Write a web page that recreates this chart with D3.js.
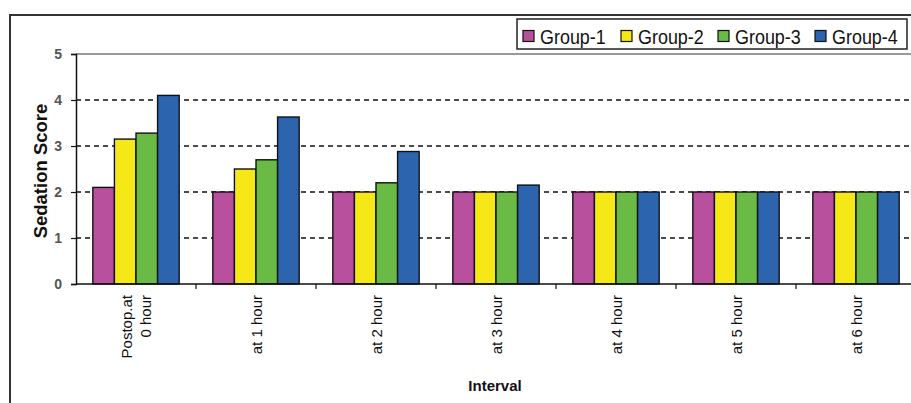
<!DOCTYPE html>
<html>
<head>
<meta charset="utf-8">
<script src="https://cdn.jsdelivr.net/npm/d3@7"></script>
<style>
  html, body { margin: 0; padding: 0; background: #fff; }
  svg { display: block; font-family: "Liberation Sans", Arial, sans-serif; }
</style>
</head>
<body>
<svg id="chart" width="911" height="403"></svg>
<script>
// Sedation score by interval for four groups
const categories = [["Postop.at", "0 hour"], ["at 1 hour"], ["at 2 hour"], ["at 3 hour"], ["at 4 hour"], ["at 5 hour"], ["at 6 hour"]];
const seriesNames = ["Group-1", "Group-2", "Group-3", "Group-4"];
const group1 = [2.1, 2.0, 2.0, 2.0, 2.0, 2.0, 2.0];
const group2 = [3.15, 2.5, 2.0, 2.0, 2.0, 2.0, 2.0];
const group3 = [3.28, 2.7, 2.2, 2.0, 2.0, 2.0, 2.0];
const group4 = [4.1, 3.63, 2.88, 2.15, 2.0, 2.0, 2.0];
const yTicks = [0, 1, 2, 3, 4, 5];
const colors = ["#B8509E", "#F6E817", "#6ABB46", "#2D64AE"];

const series = [group1, group2, group3, group4];
const svg = d3.select("#chart");

// outer chart frame
svg.append("rect")
  .attr("x", 10).attr("y", 15)
  .attr("width", 960).attr("height", 450)
  .attr("fill", "#fff").attr("stroke", "#333").attr("stroke-width", 2);

const plot = { left: 76, right: 916, top: 54, bottom: 284 };
const catKeys = categories.map((c, i) => i);

const x = d3.scaleBand().domain(catKeys).range([plot.left, plot.right]).paddingInner(0).paddingOuter(0);
const xInner = d3.scaleBand().domain(d3.range(series.length))
  .range([0, x.bandwidth()]).paddingInner(0).paddingOuter(0.78);
const y = d3.scaleLinear().domain([0, 5]).range([plot.bottom, plot.top]);

// gridlines
svg.append("g").selectAll("line")
  .data(yTicks.filter(t => t > 0 && t < 5))
  .join("line")
  .attr("x1", plot.left).attr("x2", plot.right)
  .attr("y1", d => y(d)).attr("y2", d => y(d))
  .attr("stroke", "#111").attr("stroke-width", 1.5)
  .attr("stroke-dasharray", "5,4");

// top border of plot area
svg.append("line")
  .attr("x1", plot.left).attr("x2", plot.right)
  .attr("y1", y(5)).attr("y2", y(5))
  .attr("stroke", "#999").attr("stroke-width", 2);

// bars
const groups = svg.append("g").selectAll("g")
  .data(series)
  .join("g")
  .attr("fill", (d, i) => colors[i]);

groups.each(function (vals, si) {
  d3.select(this).selectAll("rect")
    .data(vals)
    .join("rect")
    .attr("x", (v, ci) => x(ci) + xInner(si))
    .attr("y", v => y(v))
    .attr("width", xInner.bandwidth())
    .attr("height", v => y(0) - y(v))
    .attr("stroke", "#111").attr("stroke-width", 1.4);
});

// y axis
const yAxis = svg.append("g")
  .attr("transform", `translate(${plot.left},0)`)
  .call(d3.axisLeft(y).tickValues(yTicks).tickSize(5).tickPadding(9).tickFormat(d3.format("d")));
yAxis.select(".domain").attr("stroke", "#111").attr("stroke-width", 1.5);
yAxis.selectAll(".tick line").attr("stroke", "#111").attr("stroke-width", 1.2);
yAxis.selectAll(".tick text")
  .attr("font-size", 14).attr("font-weight", "bold").attr("fill", "#555")
  .attr("font-family", "Liberation Sans, Arial, sans-serif");

// x axis
const xAxisG = svg.append("g").attr("transform", `translate(0,${plot.bottom})`);
xAxisG.append("line")
  .attr("x1", plot.left).attr("x2", plot.right)
  .attr("stroke", "#111").attr("stroke-width", 1.5);
xAxisG.selectAll("line.tick")
  .data(catKeys.slice(1))
  .join("line")
  .attr("class", "tick")
  .attr("x1", d => x(d)).attr("x2", d => x(d))
  .attr("y1", 0).attr("y2", 5)
  .attr("stroke", "#111").attr("stroke-width", 1.2);

// rotated category labels
const labels = xAxisG.selectAll("text.cat")
  .data(categories)
  .join("text")
  .attr("class", "cat")
  .attr("font-size", 15).attr("fill", "#111")
  .attr("text-anchor", "end")
  .attr("transform", (d, i) => `translate(${x(i) + x.bandwidth() / 2},11) rotate(-90)`);
labels.each(function (lines) {
  const t = d3.select(this);
  const lh = 19;
  const off = -(lines.length - 1) * lh / 2;
  lines.forEach((ln, k) => {
    t.append("tspan")
      .attr("x", 0)
      .attr("y", off + k * lh + 5.5)
      .text(ln);
  });
});

// axis titles
svg.append("text")
  .attr("transform", `translate(47,${(plot.top + plot.bottom) / 2 + 2}) rotate(-90)`)
  .attr("text-anchor", "middle")
  .attr("font-size", 18.5).attr("font-weight", "bold").attr("fill", "#111")
  .text("Sedation Score");

svg.append("text")
  .attr("x", 495).attr("y", 391)
  .attr("text-anchor", "middle")
  .attr("font-size", 15).attr("font-weight", "bold").attr("fill", "#111")
  .text("Interval");

// legend
const legend = svg.append("g");
legend.append("rect")
  .attr("x", 517).attr("y", 19).attr("width", 390).attr("height", 30)
  .attr("fill", "#fff").attr("stroke", "#222").attr("stroke-width", 1.5);
const itemX = [523, 621, 718, 815];
const items = legend.selectAll("g.item")
  .data(seriesNames)
  .join("g")
  .attr("class", "item")
  .attr("transform", (d, i) => `translate(${itemX[i]},36)`);
items.append("rect")
  .attr("x", 0).attr("y", -5.5).attr("width", 11).attr("height", 11)
  .attr("fill", (d, i) => colors[i]).attr("stroke", "#111").attr("stroke-width", 1.2);
items.append("text")
  .attr("transform", "translate(17,8) scale(0.92,1)")
  .attr("font-size", 19.5).attr("fill", "#111")
  .text(d => d);
</script>
</body>
</html>
